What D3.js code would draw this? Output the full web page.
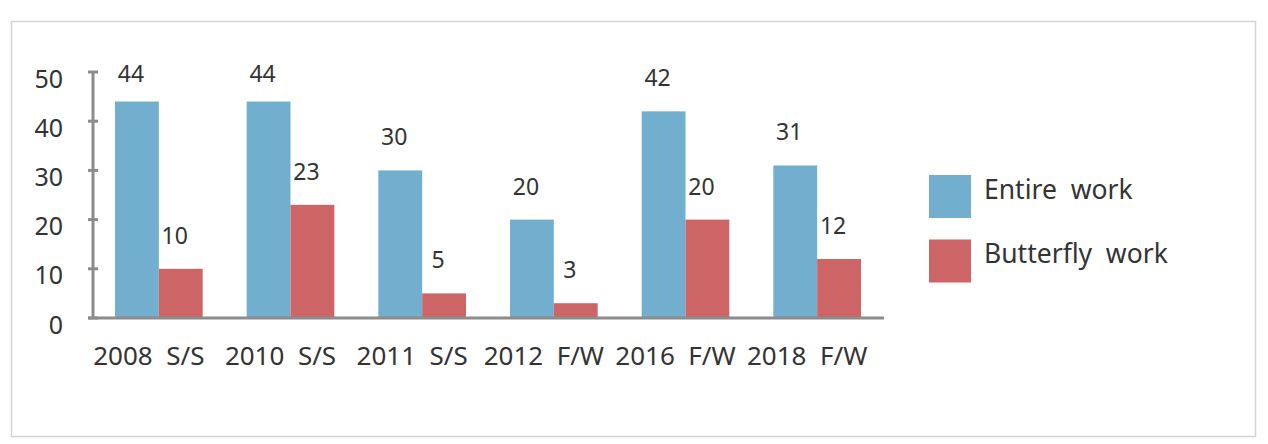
<style>
body {margin:0; background:#fff;}
text {font-family:'Noto Sans',sans-serif; fill:#333;}
.xlab {white-space:pre;}
</style>
<script src='https://d3js.org/d3.v7.min.js'></script>
<svg id='svg001'></svg>
<script>
var categories=['2008  S/S','2010  S/S','2011  S/S','2012  F/W','2016  F/W','2018  F/W'];
var seriesNames=['Entire  work','Butterfly  work'];
var entire=[44,44,30,20,42,31];
var butterfly=[10,23,5,3,20,12];
var yTicks=[0,10,20,30,40,50];
var colors=['#72afcf','#cd6466'];

var W=1268,H=444;
var svg=d3.select('#svg001').attr('width',W).attr('height',H);
svg.append('rect').attr('x',11.5).attr('y',21.5).attr('width',1244).attr('height',415)
   .attr('fill','#fff').attr('stroke','#d4d4d4').attr('stroke-width',1.5);

var x0=d3.scaleBand().domain(categories).range([93,883]).padding(0);
var x1=d3.scaleBand().domain(seriesNames).range([22,x0.bandwidth()-22]).padding(0);
var y=d3.scaleLinear().domain([0,50]).range([318,72]);

var data=categories.map(function(c,i){return {cat:c,vals:[entire[i],butterfly[i]]};});

var g=svg.selectAll('.grp').data(data).enter().append('g')
   .attr('transform',function(d){return 'translate('+x0(d.cat)+',0)';});
g.selectAll('rect').data(function(d){return d.vals.map(function(v,k){return {k:k,v:v};});})
 .enter().append('rect')
 .attr('x',function(d){return x1(seriesNames[d.k]);})
 .attr('width',x1.bandwidth())
 .attr('y',function(d){return y(d.v);})
 .attr('height',function(d){return y(0)-y(d.v);})
 .attr('fill',function(d){return colors[d.k];});
g.selectAll('.val').data(function(d){return d.vals.map(function(v,k){return {k:k,v:v};});})
 .enter().append('text').attr('class','val')
 .attr('x',function(d){return x1(seriesNames[d.k])+x1.bandwidth()/2-6;})
 .attr('y',function(d){return Math.max(y(d.v)-25,82);})
 .attr('text-anchor','middle').style('font-size','23px')
 .text(function(d){return d.v;});

// y axis
var yAxis=svg.append('g').attr('transform','translate(93,0)')
   .call(d3.axisLeft(y).tickValues(yTicks).tickSize(0).tickPadding(30));
yAxis.select('.domain').remove();
yAxis.selectAll('text').attr('dy','0.6em').style('font-size','25px').style('fill','#333');
svg.append('line').attr('x1',93).attr('x2',93).attr('y1',y(50)).attr('y2',y(0))
   .attr('stroke','#8c8c8c').attr('stroke-width',3);
svg.selectAll('.ytk').data(yTicks).enter().append('line')
   .attr('x1',88).attr('x2',98).attr('y1',function(d){return y(d);}).attr('y2',function(d){return y(d);})
   .attr('stroke','#8c8c8c').attr('stroke-width',3);

// x axis
svg.append('line').attr('x1',88).attr('x2',884).attr('y1',y(0)).attr('y2',y(0))
   .attr('stroke','#8c8c8c').attr('stroke-width',3);
svg.selectAll('.xlab').data(categories).enter().append('text').attr('class','xlab')
   .attr('x',function(d){return x0(d)+x0.bandwidth()/2-10;})
   .attr('y',365).attr('text-anchor','middle').style('font-size','26px')
   .text(function(d){return d;});

// legend
var leg=svg.selectAll('.leg').data(seriesNames).enter().append('g')
   .attr('transform',function(d,i){return 'translate(929,'+(175+i*64.5)+')';});
leg.append('rect').attr('width',42).attr('height',43).attr('fill',function(d,i){return colors[i];});
leg.append('text').attr('class','xlab').attr('x',55).attr('y',23.5)
   .style('font-size','26.5px').text(function(d){return d;});
</script>
